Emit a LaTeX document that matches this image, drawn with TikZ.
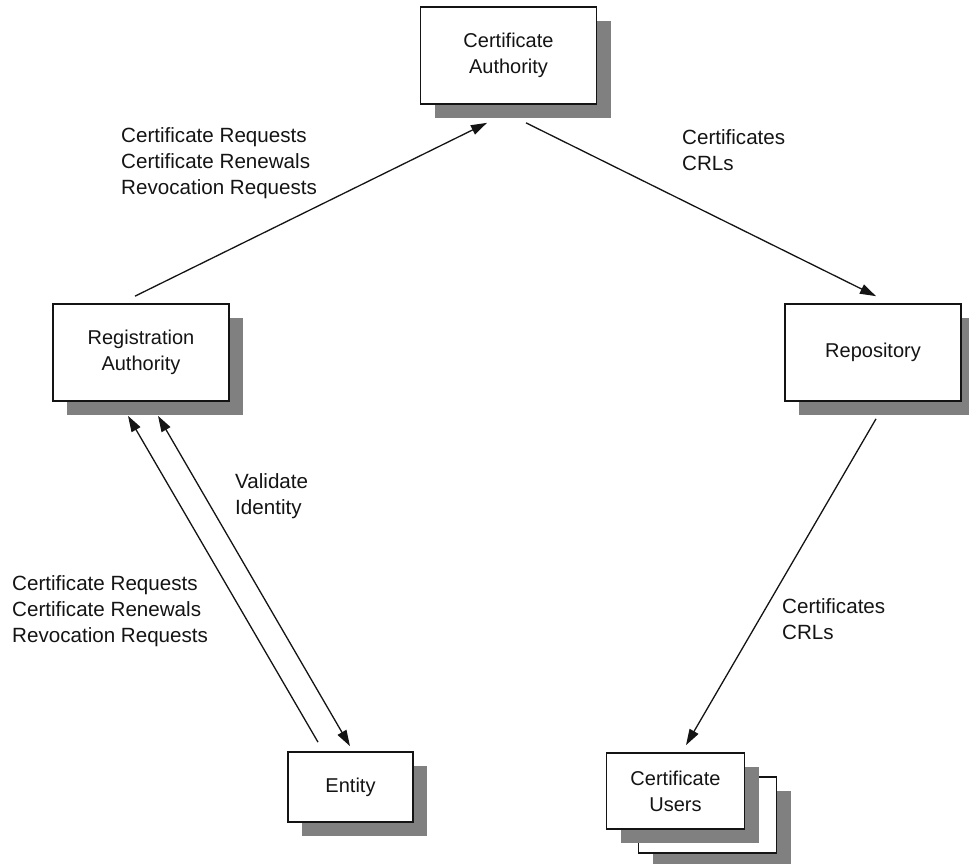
\documentclass[tikz,border=0pt]{standalone}
\usepackage{fontspec}
\setmainfont{Liberation Sans}
\usetikzlibrary{arrows.meta,calc,shadows}
\definecolor{shade}{RGB}{128,128,128}
\definecolor{ink}{RGB}{20,20,20}
\tikzset{
  box/.style={draw=ink, line width=1.7pt, fill=white, inner sep=0pt,
    align=center, font=\fontsize{20}{26}\selectfont, text=ink,
    drop shadow={shadow xshift=14pt, shadow yshift=-14pt, fill=shade, opacity=1}},
  bigbox/.style={box, minimum width=176pt, minimum height=97pt},
  label/.style={inner sep=0pt, anchor=west, align=left,
    font=\fontsize{20.6}{26}\selectfont, text=ink},
  conn/.style={draw=ink, line width=1.3pt},
  tip/.style={-{Triangle[length=16pt,width=10pt]}},
}
\begin{document}
\begin{tikzpicture}[x=1pt,y=-1pt]
\useasboundingbox (0,0) rectangle (969,864);

% boxes
\node[bigbox] (ca)   at (508.5,55.5) {Certificate\\Authority};
\node[bigbox] (ra)   at (141,352.5)  {Registration\\Authority};
\node[bigbox] (repo) at (873,352.5)  {Repository};
\node[box, minimum width=125pt, minimum height=70pt] (entity) at (350.5,787) {Entity};
% stacked user boxes: the back one first
\node[box, minimum width=138pt, minimum height=76pt] (usersback) at (707.5,815) {};
\node[box, minimum width=138pt, minimum height=76pt] (users) at (675.5,791) {Certificate\\Users};

% connectors
\draw[conn,tip] ($(ra.north)+(-6,-7)$) -- ($(ca.south)+(-21.5,18)$);
\draw[conn,tip] ($(ca.south)+(17.5,18)$) -- ($(repo.north)+(3,-7)$);
\draw[conn,tip] ($(repo.south)+(3,17)$) -- ($(users.north)+(10.5,-7)$);
\draw[conn,tip] ($(entity.north)+(-32.5,-9)$) -- ($(ra.south)+(-13,14)$);
\draw[conn,{Triangle[length=16pt,width=10pt]}-{Triangle[length=16pt,width=10pt]}]
  ($(ra.south)+(17,14)$) -- ($(entity.north)+(-0.5,-5)$);

% labels
\node[label] (l1) at (121,163) {Certificate Requests\\Certificate Renewals\\Revocation Requests};
\node[label] (l2) at (682,150) {Certificates\\CRLs};
\node[label] (l3) at (235,496) {Validate\\Identity};
\node[label] (l4) at (12,611)  {Certificate Requests\\Certificate Renewals\\Revocation Requests};
\node[label] (l5) at (782,619) {Certificates\\CRLs};
\end{tikzpicture}
\end{document}
